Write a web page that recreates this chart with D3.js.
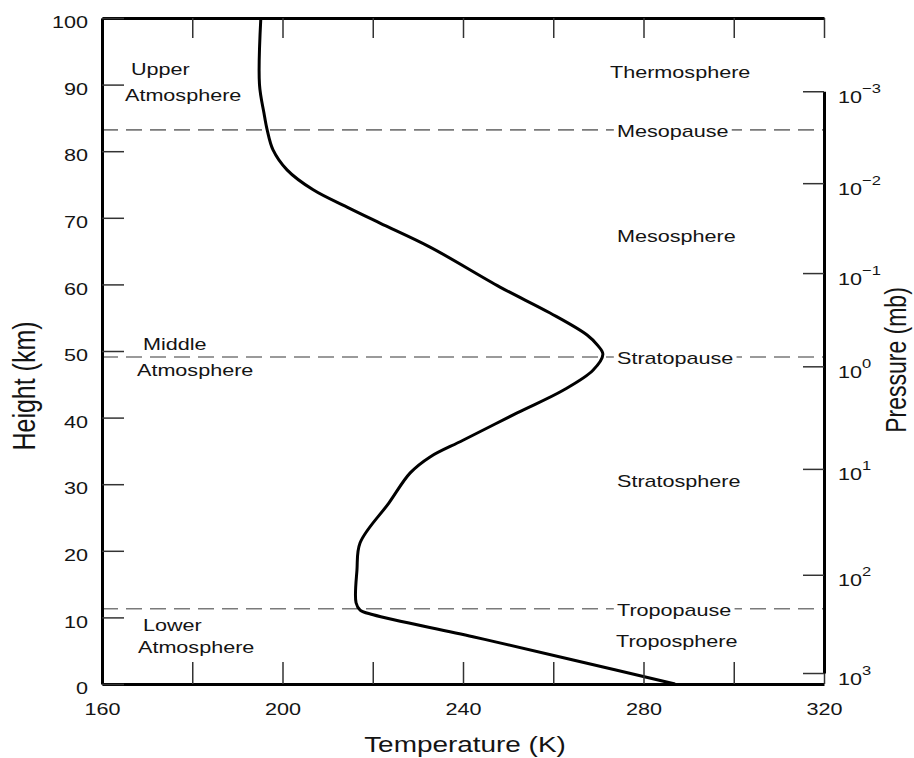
<!DOCTYPE html>
<html><head><meta charset="utf-8">
<script src="https://cdn.jsdelivr.net/npm/d3@7"></script>
<style>
body{margin:0;background:#fff}
svg{display:block}
text{font-family:"Liberation Sans",Arial,Helvetica,sans-serif;fill:#141414}
</style>
</head><body>
<svg id="c" width="914" height="758"></svg>
<script>
// ---- data ----
const heightKm = [0, 3.6, 7.1, 10.4, 11.1, 12.2, 17.1, 21.2, 27.2, 31.7, 34.1, 36.6, 40.7, 44.1, 47.1, 49.5, 50.8, 52.4, 55.7, 59.6, 65.6, 69.2, 71.6, 74.2, 77.2, 80.2, 83.2, 85.7, 90.0, 100];
const temperatureK = [287, 264.4, 242.2, 220.1, 217.2, 216.3, 216.5, 217.2, 223.6, 228.3, 232.7, 240.0, 252.0, 262.2, 268.8, 271.0, 269.9, 267.5, 259.3, 248.2, 232.7, 221.6, 214.3, 206.8, 201.0, 197.9, 196.6, 195.9, 194.9, 195.2];
const tempTicks = [160, 180, 200, 220, 240, 260, 280, 300, 320];
const tempLabels = [160, 200, 240, 280, 320];
const heightTicks = [0, 10, 20, 30, 40, 50, 60, 70, 80, 90, 100];
const pressureMb = [1e-3, 1e-2, 1e-1, 1, 10, 100, 1000];
const pressureHeightKm = [89.0, 75.2, 61.7, 47.7, 32.3, 16.4, 1.65];
const pressureExp = ["\u22123", "\u22122", "\u22121", "0", "1", "2", "3"];
const boundaryNames = ["Tropopause", "Stratopause", "Mesopause"];
const boundaryKm = [11.3, 49.1, 83.2];
const layerNames = ["Troposphere", "Stratosphere", "Mesosphere", "Thermosphere"];
const regionNames = [["Lower", "Atmosphere"], ["Middle", "Atmosphere"], ["Upper", "Atmosphere"]];

// ---- layout ----
const W = 914, H = 758;
const m = {l: 102, r: 90, t: 18, b: 74};
const SX = 1.27; // horizontal stretch of the glyphs
const svg = d3.select("#c");
const x = d3.scaleLinear().domain([160, 320]).range([m.l, W - m.r]);
const y = d3.scaleLinear().domain([0, 100]).range([H - m.b, m.t]);
const pY = d3.scaleLog().domain(pressureMb).range(pressureHeightKm.map(h => y(h)));

function label(g, txt, px, py, size, anchor) {
  const t = g.append("g").attr("transform", `translate(${px},${py}) scale(${SX},1)`);
  t.append("text").attr("font-size", size).attr("text-anchor", anchor || "start").text(txt);
  return t;
}

// dashed boundaries
const gB = svg.append("g");
boundaryKm.forEach((h, i) => {
  gB.append("line").attr("x1", x(160)).attr("x2", x(320)).attr("y1", y(h)).attr("y2", y(h))
    .attr("stroke", "#7a7a7a").attr("stroke-width", 1.6).attr("stroke-dasharray", "16,8");
  const t = label(gB, boundaryNames[i], 617, y(h) + 7, 17);
  const bb = t.select("text").node().getBBox();
  t.insert("rect", "text").attr("x", bb.x - 2.5).attr("y", bb.y + 2).attr("width", bb.width + 5)
    .attr("height", bb.height - 4).attr("fill", "#fff");
});

// layer labels
const gL = svg.append("g");
const layerAt = [5.6, 29.6, 66.4, 91.0];
const layerX = [616, 617, 617, 610];
layerNames.forEach((n, i) => label(gL, n, layerX[i], y(layerAt[i]), 17));

// region labels
const regionAt = [[7.9, 4.6], [50.2, 46.3], [91.5, 87.5]];
const regionX = [[143, 138], [143, 137], [131, 125]];
regionNames.forEach((r, i) => {
  label(gL, r[0], regionX[i][0], y(regionAt[i][0]), 17);
  label(gL, r[1], regionX[i][1], y(regionAt[i][1]), 17);
});

// profile curve
const pts = heightKm.map((h, i) => ({h, T: temperatureK[i]})).sort((a, b) => b.h - a.h);
svg.append("path").datum(pts)
  .attr("d", d3.line().x(d => x(d.T)).y(d => y(d.h)).curve(d3.curveCatmullRom.alpha(0.5)))
  .attr("fill", "none").attr("stroke", "#000").attr("stroke-width", 3).attr("stroke-linejoin", "round");

// axes
function styleAxis(g) {
  g.select(".domain").attr("stroke", "#000").attr("stroke-width", 3);
  g.selectAll(".tick line").attr("stroke", "#333").attr("stroke-width", 1.5);
  g.selectAll(".tick text").attr("font-size", 17).attr("fill", "#141414")
    .attr("font-family", "'Liberation Sans', Arial, sans-serif");
}
const gBottom = svg.append("g").attr("transform", `translate(0,${y(0)})`)
  .call(d3.axisBottom(x).tickValues(tempTicks).tickSize(-22).tickSizeOuter(0).tickPadding(19)
    .tickFormat(d => tempLabels.includes(d) ? d : ""));
styleAxis(gBottom);
gBottom.selectAll(".tick text").attr("transform", `scale(${SX},1)`);

const gTop = svg.append("g").attr("transform", `translate(0,${y(100)})`)
  .call(d3.axisTop(x).tickValues(tempTicks).tickSize(-20).tickSizeOuter(0).tickFormat(""));
styleAxis(gTop);

const gLeft = svg.append("g").attr("transform", `translate(${x(160)},0)`)
  .call(d3.axisLeft(y).tickValues(heightTicks).tickSize(-22).tickSizeOuter(0).tickPadding(14));
styleAxis(gLeft);
gLeft.selectAll(".tick text").attr("x", -14 / SX).attr("dy", "0.57em").attr("transform", `scale(${SX},1)`);

const gRight = svg.append("g").attr("transform", `translate(${x(320)},0)`)
  .call(d3.axisRight(pY).tickValues(pressureMb).tickSize(-21).tickSizeOuter(0).tickFormat(""));
styleAxis(gRight);
gRight.selectAll(".tick").each(function(d, i) {
  const g = d3.select(this).append("g").attr("transform", `translate(14,0) scale(${SX},1)`);
  const t = g.append("text").attr("font-size", 17).attr("y", 11);
  t.append("tspan").text("10");
  t.append("tspan").attr("font-size", 13).attr("dy", -10).text(pressureExp[i]);
});

// titles
label(svg, "Temperature (K)", (x(160) + x(320)) / 2 + 2, 752, 22, "middle");
svg.append("g").attr("transform", `translate(35,386) scale(${SX},1) rotate(-90)`)
  .append("text").attr("font-size", 25).attr("text-anchor", "middle").text("Height (km)");
svg.append("g").attr("transform", `translate(906,360) scale(${SX},1) rotate(-90)`)
  .append("text").attr("font-size", 23).attr("text-anchor", "middle").text("Pressure (mb)");
</script>
</body></html>
